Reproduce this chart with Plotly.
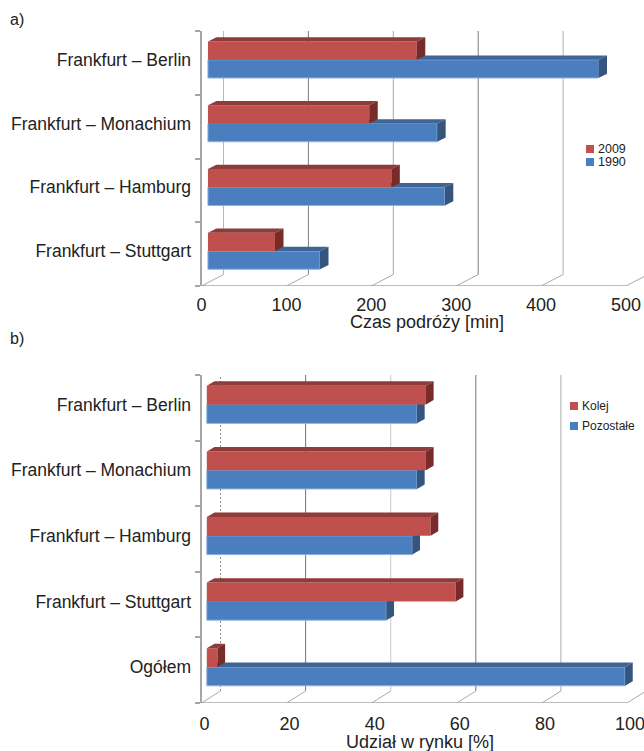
import plotly.graph_objects as go

routes_a = ["Frankfurt – Stuttgart", "Frankfurt – Hamburg", "Frankfurt – Monachium", "Frankfurt – Berlin"]
times_2009 = [79, 216, 190, 246]
times_1990 = [132, 279, 270, 460]
ticks_a = [0, 100, 200, 300, 400, 500]
grid_colors_a = ["#b8b8b8", "#7c7c7c", "#a8a8a8", "#7c7c7c", "#b0b0b0", "#b0b0b0"]

routes_b = ["Ogółem", "Frankfurt – Stuttgart", "Frankfurt – Hamburg", "Frankfurt – Monachium", "Frankfurt – Berlin"]
share_rail = [2.5, 58.5, 52.6, 51.5, 51.5]
share_other = [98.3, 42.2, 48.3, 49.4, 49.4]
ticks_b = [0, 20, 40, 60, 80, 100]
grid_colors_b = ["#8c8c8c", "#777777", "#c8c8c8", "#777777", "#ababab", "#b0b0b0"]

W, H = 644, 751
FONT = "Liberation Sans"
RED, RED_TOP, RED_SIDE = "#c0504d", "#8e3b39", "#772c2a"
BLUE, BLUE_TOP, BLUE_SIDE = "#4a7ebf", "#3e6594", "#35557f"
AXIS = "#a6a6a6"
PAIR_POS, BAR_H, BAR_DY = 0.549, 0.286, 0.068

fig = go.Figure()


def panel(n, cats, red, blue, ticks, grid_colors, left, right, dom_y, base, bar_dx, wall_dx, wall_dy,
          red_name, blue_name, grid_dash, label_shift, label_gap):
    ids = [3 * n - 2, 3 * n - 1, 3 * n]
    xs = ["x" if i == 1 else f"x{i}" for i in ids]
    ys = ["y" if i == 1 else f"y{i}" for i in ids]
    top = len(cats)
    # The x axis runs on to the page edge so the 3-D depth past the last tick stays visible.
    x_max = ticks[-1] * (W - left) / (right - left)
    for i, xa in zip(ids, xs):
        key = "" if i == 1 else str(i)
        main = i == ids[0]
        fig.layout[f"xaxis{key}"] = dict(
            domain=[left / W, 1], range=[0, x_max], anchor=ys[ids.index(i)], visible=main,
            tickmode="array", tickvals=ticks, ticks="outside", ticklen=label_gap,
            tickcolor="rgba(0,0,0,0)", showgrid=False, zeroline=False, showline=False,
            ticklabelshift=label_shift, ticklabeloverflow="allow",
            tickfont=dict(family=FONT, size=18, color="#222"),
            **({} if main else {"overlaying": xs[0]}))
        fig.layout[f"yaxis{key}"] = dict(
            domain=dom_y, range=[0, top], anchor=xa, visible=main,
            tickmode="array", tickvals=[k + PAIR_POS for k in range(top)], ticktext=cats,
            ticks="outside", ticklen=5, tickcolor="rgba(0,0,0,0)", showgrid=False, zeroline=False,
            showline=main, linecolor=AXIS, linewidth=2,
            tickfont=dict(family=FONT, size=17.5, color="#222"),
            minor=dict(tickmode="array", tickvals=list(range(top + 1)), ticks="outside",
                       ticklen=5, tickcolor=AXIS, tickwidth=1.5),
            **({} if main else {"overlaying": ys[0]}))

    def rule(px, py, color, width=1, dash="solid"):
        fig.add_trace(go.Scatter(x=px, y=py, mode="lines", line=dict(color=color, width=width, dash=dash),
                                 cliponaxis=False, showlegend=False, hoverinfo="skip",
                                 xaxis=xs[0], yaxis=ys[0]))

    # back wall gridlines, floor diagonals and the front x axis line
    for j, (t, c) in enumerate(zip(ticks, grid_colors)):
        rule([t + wall_dx, t + wall_dx], [wall_dy, top + wall_dy], c, 1, grid_dash if j == 0 else "solid")
        rule([t, t + wall_dx], [0, wall_dy], "#aaaaaa")
    rule([0, wall_dx], [top, top + wall_dy], "#aaaaaa")
    rule([0, ticks[-1]], [0, 0], AXIS, 1.5)

    def series(name, vals, sign, color, c_top, c_side, xa, ya, outline):
        mids = [k + PAIR_POS + sign * BAR_H / 2 for k in range(top)]
        fig.add_trace(go.Bar(orientation="h", name=name, y=mids, x=vals, base=base, width=BAR_H,
                             marker=dict(color=color, line=dict(color=outline, width=1 if outline != color else 0)),
                             showlegend=False, xaxis=xa, yaxis=ya))
        tx, ty, sx, sy = [], [], [], []
        for v, m in zip(vals, mids):
            end = base + v
            hi, lo = m + BAR_H / 2, m - BAR_H / 2
            tx += [base, base + bar_dx, end + bar_dx, end, None]
            ty += [hi, hi + BAR_DY, hi + BAR_DY, hi, None]
            sx += [end, end, end + bar_dx, end + bar_dx, None]
            sy += [lo, hi, hi + BAR_DY, lo + BAR_DY, None]
        for px, py, c in ((tx, ty, c_top), (sx, sy, c_side)):
            fig.add_trace(go.Scatter(x=px, y=py, mode="lines", fill="toself", fillcolor=c,
                                     line=dict(width=0), cliponaxis=False, showlegend=False,
                                     hoverinfo="skip", xaxis=xa, yaxis=ya))

    series(blue_name, blue, -1, BLUE, BLUE_TOP, BLUE_SIDE, xs[1], ys[1], "#8db0de")
    series(red_name, red, 1, RED, RED_TOP, RED_SIDE, xs[2], ys[2], RED)


panel(1, routes_a, times_2009, times_1990, ticks_a, grid_colors_a, 201.5, 626,
      [1 - 286 / H, 1 - 31 / H], 7.6, 10, 25.9, 0.18, "2009", "1990", "solid", 0, 2)
panel(2, routes_b, share_rail, share_other, ticks_b, grid_colors_b, 201.5, 627,
      [1 - 703 / H, 1 - 375 / H], 1.25, 1.8, 4.47, 0.183, "Kolej", "Pozostałe", "2px,2px", 3, 4)

swatches = []
notes = []


def key_entry(label, color, px, py, size):
    """One hand-placed legend row: an 8 px swatch and its label (the row spacing differs per panel)."""
    swatches.append(dict(type="rect", xref="paper", yref="paper", x0=px / W, x1=(px + 8) / W,
                         y0=1 - (py + 4) / H, y1=1 - (py - 4) / H, fillcolor=color, line_width=0))
    notes.append(dict(text=label, x=(px + 10) / W, y=1 - py / H, xref="paper", yref="paper", xanchor="left",
                      yanchor="middle", showarrow=False, font=dict(size=size)))


key_entry("2009", RED, 586, 149, 12.5)
key_entry("1990", BLUE, 586, 162, 12.5)
key_entry("Kolej", RED, 570, 406, 12)
key_entry("Pozostałe", BLUE, 570, 426, 12)

fig.update_layout(
    width=W, height=H, margin=dict(l=0, r=0, t=0, b=0, autoexpand=False), autosize=False,
    paper_bgcolor="white", plot_bgcolor="rgba(0,0,0,0)", barmode="overlay", showlegend=False,
    font=dict(family=FONT, color="#222"),
    shapes=swatches,
    annotations=notes + [
        dict(text="a)", x=8 / W, y=1 - 20 / H, xref="paper", yref="paper", xanchor="left", yanchor="middle",
             showarrow=False, font=dict(size=16)),
        dict(text="b)", x=8 / W, y=1 - 338 / H, xref="paper", yref="paper", xanchor="left", yanchor="middle",
             showarrow=False, font=dict(size=16)),
        dict(text="Czas podróży [min]", x=426.5 / W, y=1 - 322 / H, xref="paper", yref="paper", yanchor="middle",
             showarrow=False, font=dict(size=18)),
        dict(text="Udział w rynku [%]", x=419.5 / W, y=1 - 742 / H, xref="paper", yref="paper", yanchor="middle",
             showarrow=False, font=dict(size=18)),
    ],
)

fig.write_html("out.html", config={"displayModeBar": False}, post_script="document.body.style.margin='0';")
